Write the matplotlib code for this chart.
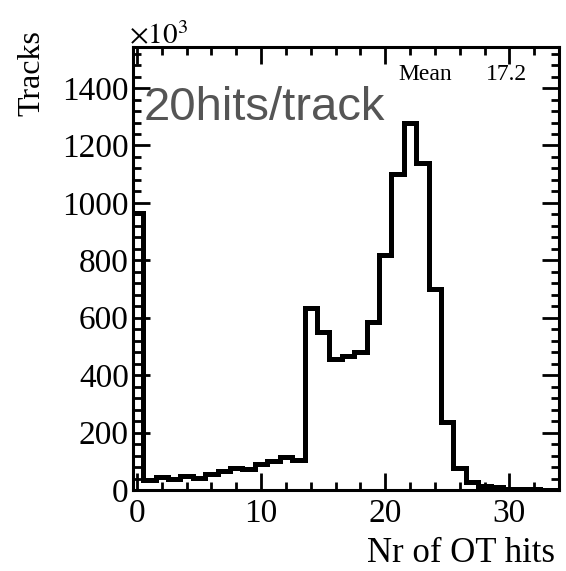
import numpy as np
import matplotlib
matplotlib.use("Agg")
import matplotlib.pyplot as plt
from matplotlib.ticker import MultipleLocator

# histogram: number of OT hits per track (bins centred on integers)
nhits = np.arange(0, 35)
tracks = [965, 35, 45, 38, 48, 42, 55, 65, 78, 72,
          90, 100, 115, 105, 635, 550, 458, 465, 480, 585,
          820, 1100, 1280, 1140, 700, 238, 75, 28, 14, 9,
          5, 3, 2, 1, 1]
mean_val = "17.2"

plt.rcParams['font.family'] = ['Liberation Serif', 'DejaVu Serif']
plt.rcParams['mathtext.fontset'] = 'stix'

W, H = 566, 571
fig = plt.figure(figsize=(W / 100, H / 100), dpi=100)
ax = fig.add_axes([133 / W, 1 - 490 / H, (559 - 133) / W, (490 - 47) / H])

edges = np.append(nhits - 0.5, nhits[-1] + 0.5)
ax.stairs(tracks, edges, color='black', linewidth=3.6, joinstyle='miter')

ax.set_xlim(-0.32, 34)
ax.set_ylim(0, 1543)

ax.xaxis.set_major_locator(MultipleLocator(10))
ax.xaxis.set_minor_locator(MultipleLocator(2))
ax.yaxis.set_major_locator(MultipleLocator(200))
ax.yaxis.set_minor_locator(MultipleLocator(40))
ax.tick_params(which='both', direction='in', top=True, right=True, width=2, colors='black')
ax.tick_params(which='major', length=12)
ax.tick_params(which='minor', length=6)
ax.tick_params(axis='x', labelsize=24, pad=6)
ax.tick_params(axis='y', labelsize=24, pad=3)
for s in ax.spines.values():
    s.set_linewidth(2.2)

fig.text(32 / W, 1 - 73 / H, "Tracks", rotation=90, ha='center', va='center', fontsize=23)
fig.text(555 / W, 1 - 553 / H, "Nr of OT hits", ha='right', va='center', fontsize=25)
fig.text(129 / W, 1 - 44 / H, r"$\times10^{3}$", ha='left', va='baseline', fontsize=21)
fig.text(398 / W, 1 - 75 / H, "Mean", ha='left', va='center', fontsize=17)
fig.text(527 / W, 1 - 75 / H, mean_val, ha='right', va='center', fontsize=17)
fig.text(144 / W, 1 - 120 / H, "20hits/track", ha='left', va='baseline',
         fontsize=34, color='#555555', family=['Liberation Sans', 'DejaVu Sans'])

fig.savefig("out.png", dpi=100)
